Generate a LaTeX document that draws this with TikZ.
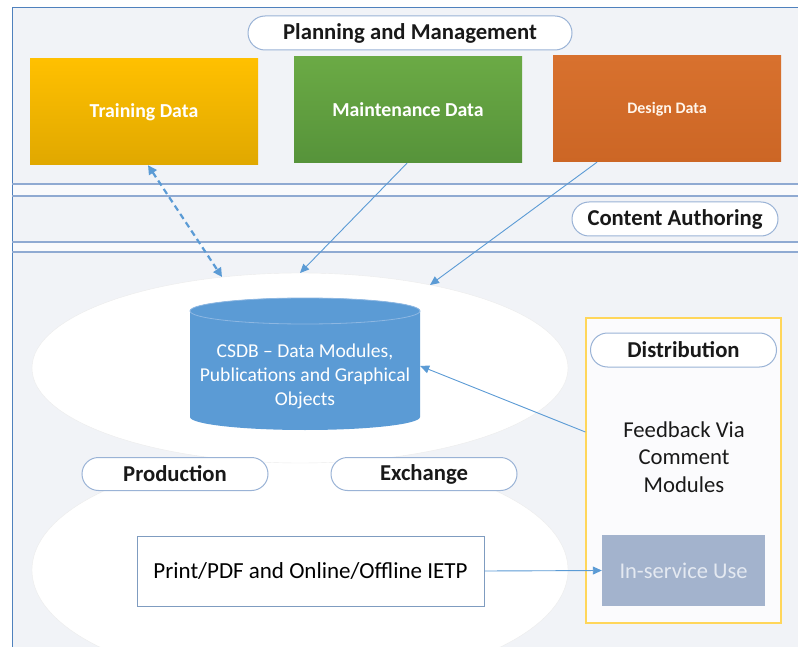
\documentclass[tikz,border=0pt]{standalone}
\usepackage{fontspec}
\setmainfont{Carlito}
\usetikzlibrary{arrows.meta,shapes.misc}
\definecolor{frameblue}{HTML}{4F81BD}
\definecolor{bandline}{HTML}{8FAAD2}
\definecolor{bgcol}{HTML}{F1F3F7}
\definecolor{pillline}{HTML}{9AB3D6}
\definecolor{arrowblue}{HTML}{5B9BD5}
\definecolor{goldA}{HTML}{FFC000}
\definecolor{goldB}{HTML}{E0A800}
\definecolor{greenA}{HTML}{6BAA45}
\definecolor{greenB}{HTML}{56933A}
\definecolor{orangeA}{HTML}{D8712E}
\definecolor{orangeB}{HTML}{CC6625}
\definecolor{cylblue}{HTML}{5B9BD5}
\definecolor{cyltop}{HTML}{8DB7E2}
\definecolor{printline}{HTML}{7F9CC0}
\definecolor{distyellow}{HTML}{FFD65A}
\definecolor{inservice}{HTML}{A3B3CD}
\definecolor{inservicetext}{HTML}{E4E9F1}
\begin{document}
\begin{tikzpicture}[x=1pt,y=-1pt,
  pill/.style={rounded rectangle, draw=pillline, line width=1pt, fill=white,
    inner sep=0pt, font=\bfseries\fontsize{22.7}{26}\selectfont, text=black!90},
  databox/.style={rectangle, inner sep=0pt, minimum width=228pt, minimum height=106pt,
    text=white, font=\bfseries\fontsize{19.8}{22}\selectfont},
  link/.style={draw=arrowblue, line width=0.9pt, -{Triangle[length=9pt,width=8pt]}},
  band/.style={draw=bandline, line width=1.3pt}
]
\useasboundingbox (0,0) rectangle (798,647);
\fill[white] (0,0) rectangle (798,647);
\fill[bgcol] (12,8) rectangle (798,647);
\fill[white!60!bgcol] (12,184) rectangle (798,196);
\fill[white!60!bgcol] (12,242) rectangle (798,252);
% ellipses
\begin{scope}
\clip (12,8) rectangle (798,647);
\draw[white!85!gray, fill=white] (300,570) ellipse [x radius=268pt, y radius=116pt];
\draw[white!85!gray, fill=white] (300,368) ellipse [x radius=268pt, y radius=95pt];
\end{scope}
% frame
\draw[frameblue, line width=1pt] (12,650) -- (12,8) -- (800,8);
% bands
\draw[band] (12,184) -- (798,184);
\draw[band] (12,196) -- (798,196);
\draw[band] (12,242) -- (798,242);
\draw[band] (12,252) -- (798,252);
% top pill
\node[pill, minimum width=324pt, minimum height=34pt] (plan) at (410,33) {Planning and Management};
% data boxes
\node[databox, top color=goldA, bottom color=goldB] (train) at (144,112) {Training Data};
\node[databox, top color=greenA, bottom color=greenB] (maint) at (408,110) {Maintenance Data};
\node[databox, top color=orangeA, bottom color=orangeB, font=\bfseries\fontsize{16}{18}\selectfont, text=white!92!orange] (design) at (667,109) {Design Data};
% content authoring
\node[pill, minimum width=206pt, minimum height=34pt] (author) at (675,219) {Content Authoring};
% cylinder
\fill[cylblue] (190,311) -- (190,417) arc[start angle=180, end angle=360, x radius=115pt, y radius=13pt] -- (420,311) arc[start angle=0, end angle=180, x radius=115pt, y radius=13pt] -- cycle;
\draw[cyltop, line width=0.8pt, fill=cylblue] (305,311) ellipse [x radius=115pt, y radius=13pt];
\node[inner sep=0pt, minimum width=230pt, minimum height=132pt, align=center, text=white,
  font=\fontsize{19.6}{24}\selectfont] (csdb) at (305,376)
  {CSDB -- Data Modules,\\ Publications and Graphical\\ Objects};
% production / exchange
\node[pill, minimum width=186pt, minimum height=33pt] (prod) at (175,474) {Production};
\node[pill, minimum width=186pt, minimum height=33pt] (exch) at (424,474) {Exchange};
% print box
\node[rectangle, draw=printline, line width=1pt, fill=white, minimum width=347pt, minimum height=70pt,
  inner sep=0pt, font=\fontsize{23}{26}\selectfont] (print) at (310.5,571) {Print/PDF and Online/Offline IETP};
% distribution box
\node[rectangle, draw=distyellow, line width=1.3pt, fill=white!70!bgcol, minimum width=195pt, minimum height=305pt, inner sep=0pt] (dist) at (683.5,470.5) {};
\node[pill, minimum width=186pt, minimum height=34pt] (distlabel) at (683.5,350) {Distribution};
\node[align=center, inner sep=0pt, font=\fontsize{22.7}{27.5}\selectfont, text=black!90] (feedback) at (684,457) {Feedback Via\\ Comment\\ Modules};
\node[rectangle, fill=inservice, minimum width=163pt, minimum height=71pt, inner sep=0pt,
  text=inservicetext, font=\fontsize{22.5}{26}\selectfont] (inuse) at (683.5,570.5) {In-service Use};
% connectors
\coordinate (t1) at (222,277);
\coordinate (t2) at (300,273);
\coordinate (t3) at (430,285);
\draw[link, {Triangle[length=9pt,width=9pt]}-{Triangle[length=9pt,width=9pt]}, dashed, dash pattern=on 6pt off 4pt, line width=2.2pt] ([xshift=4pt]train.south) -- (t1);
\draw[link] ([xshift=-1pt]maint.south) -- (t2);
\draw[link] ([xshift=-70pt]design.south) -- (t3);
\draw[link] ([yshift=38.5pt]dist.west) -- (csdb.east |- 0,366);
\draw[link] (print.east) -- (inuse.west);
\end{tikzpicture}
\end{document}
